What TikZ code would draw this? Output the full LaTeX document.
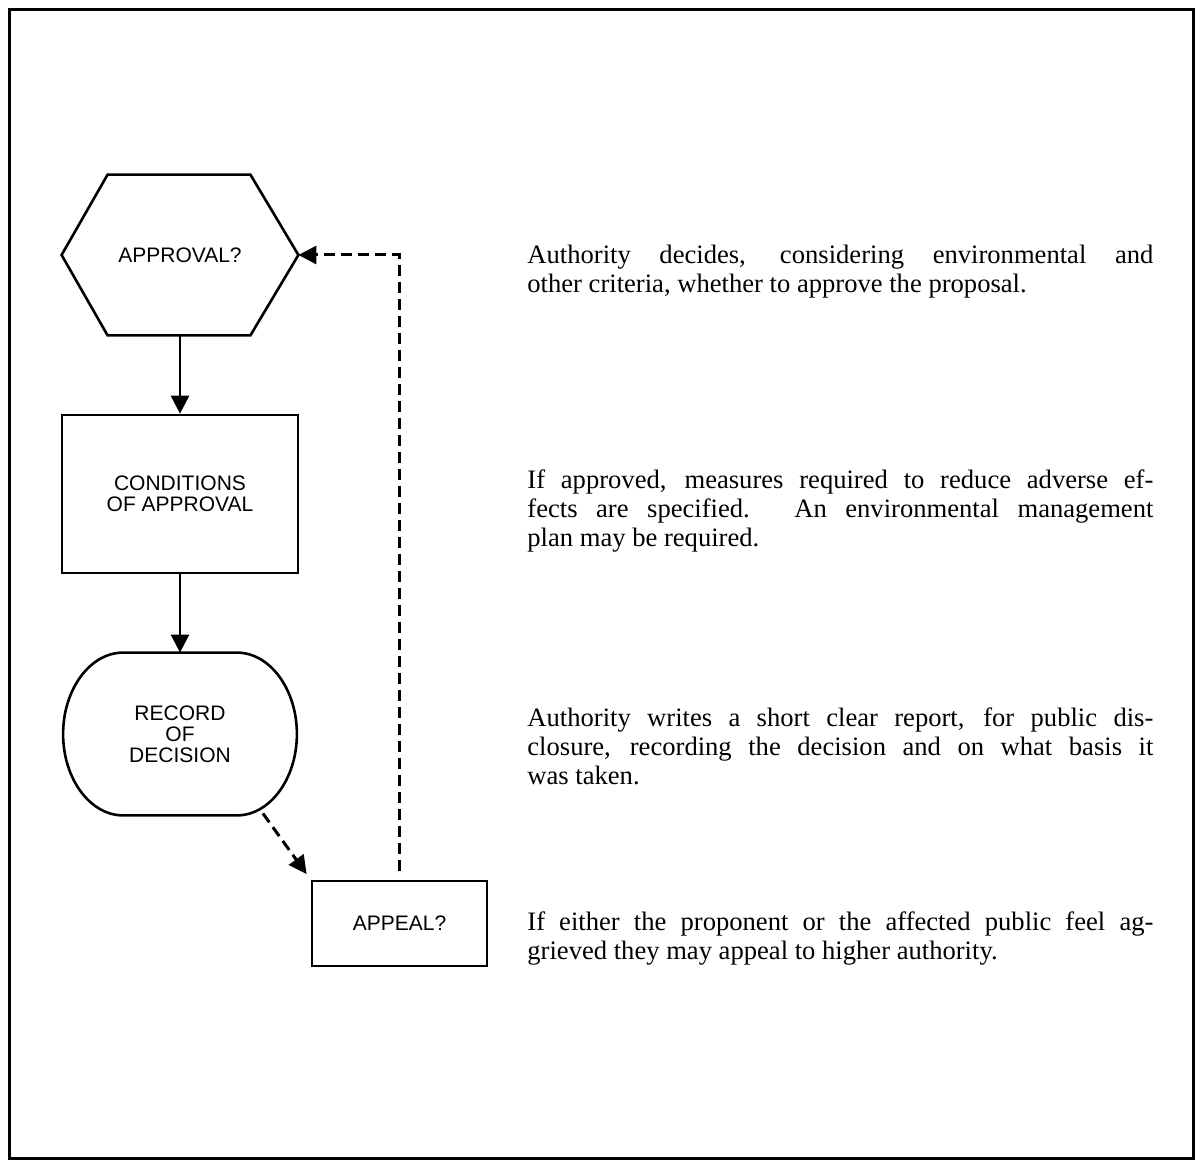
\documentclass[tikz,border=0pt]{standalone}
\usepackage{fontspec}
\setmainfont{Liberation Serif}
\newfontfamily\labelsans{Liberation Sans}
\usetikzlibrary{arrows.meta,calc}
\begin{document}
\begin{tikzpicture}[x=0.5pt,y=-0.5pt,
  shapeline/.style={line width=1.3pt},
  conn/.style={line width=1.3pt,-{Triangle[length=9pt,width=9pt]}},
  dashconn/.style={line width=1.5pt,dash pattern=on 5.5pt off 3pt,-{Triangle[length=9pt,width=9pt]}},
  lbl/.style={font=\labelsans\fontsize{10.5pt}{10.5pt}\selectfont,align=center,inner sep=0pt},
  desc/.style={font=\fontsize{13.3pt}{14.5pt}\selectfont,
    execute at begin node={\tolerance=10000\relax\hyphenpenalty=10000\relax},
    text width=313pt,align=justify,inner sep=0pt,anchor=base west}]
\useasboundingbox (0,0) rectangle (1195,1160);
\draw[line width=1.5pt] (9,10) rectangle (1193,1158);

% hexagon
\node[lbl,minimum width=118pt,minimum height=80pt] (appr) at (180,255) {APPROVAL?};
\draw[shapeline] (appr.west) -- ($(appr.north west)+(46,0)$) -- ($(appr.north east)+(-48,0)$)
  -- (appr.east) -- ($(appr.south east)+(-48,0)$) -- ($(appr.south west)+(46,0)$) -- cycle;

% rectangle
\node[lbl,draw,shapeline,minimum width=118pt,minimum height=79pt] (cond) at (180,494) {CONDITIONS\\OF APPROVAL};

% record (flattened ellipse)
\node[lbl,minimum width=116.5pt,minimum height=81pt] (rec) at (180,734) {RECORD\\OF\\DECISION};
\draw[shapeline] ($(rec.north west)+(60,0)$) -- ($(rec.north east)+(-60,0)$)
  .. controls ($(rec.north east)+(-27,0)$) and ($(rec.east)+(0,-44.7)$) .. (rec.east)
  .. controls ($(rec.east)+(0,44.7)$) and ($(rec.south east)+(-27,0)$) .. ($(rec.south east)+(-60,0)$)
  -- ($(rec.south west)+(60,0)$)
  .. controls ($(rec.south west)+(27,0)$) and ($(rec.west)+(0,44.7)$) .. (rec.west)
  .. controls ($(rec.west)+(0,-44.7)$) and ($(rec.north west)+(27,0)$) .. cycle;

% appeal
\node[lbl,draw,shapeline,minimum width=87.5pt,minimum height=42.5pt] (app) at (399.5,923.5) {APPEAL?};

% connectors
\draw[conn] (appr.south) -- (cond.north);
\draw[conn] (cond.south) -- (rec.north);
\coordinate (recout) at ($(rec.south east)+(-34,-2)$);
\draw[dashconn,shorten >=3.5pt] (recout) -- (app.north west);
\draw[dashconn,shorten <=4.5pt] (app.north) |- (appr.east);

% descriptions
\node[desc] (t1) at (527,264) {Authority decides, considering environmental and\linebreak other criteria, whether to approve the proposal.};
\node[desc] (t2) at (527,489) {If approved, measures required to reduce adverse ef-\linebreak fects are specified. An environmental management\linebreak plan may be required.};
\node[desc] (t3) at (527,726) {Authority writes a short clear report, for public dis-\linebreak closure, recording the decision and on what basis it\linebreak was taken.};
\node[desc] (t4) at (527,930) {If either the proponent or the affected public feel ag-\linebreak grieved they may appeal to higher authority.};
\end{tikzpicture}
\end{document}
